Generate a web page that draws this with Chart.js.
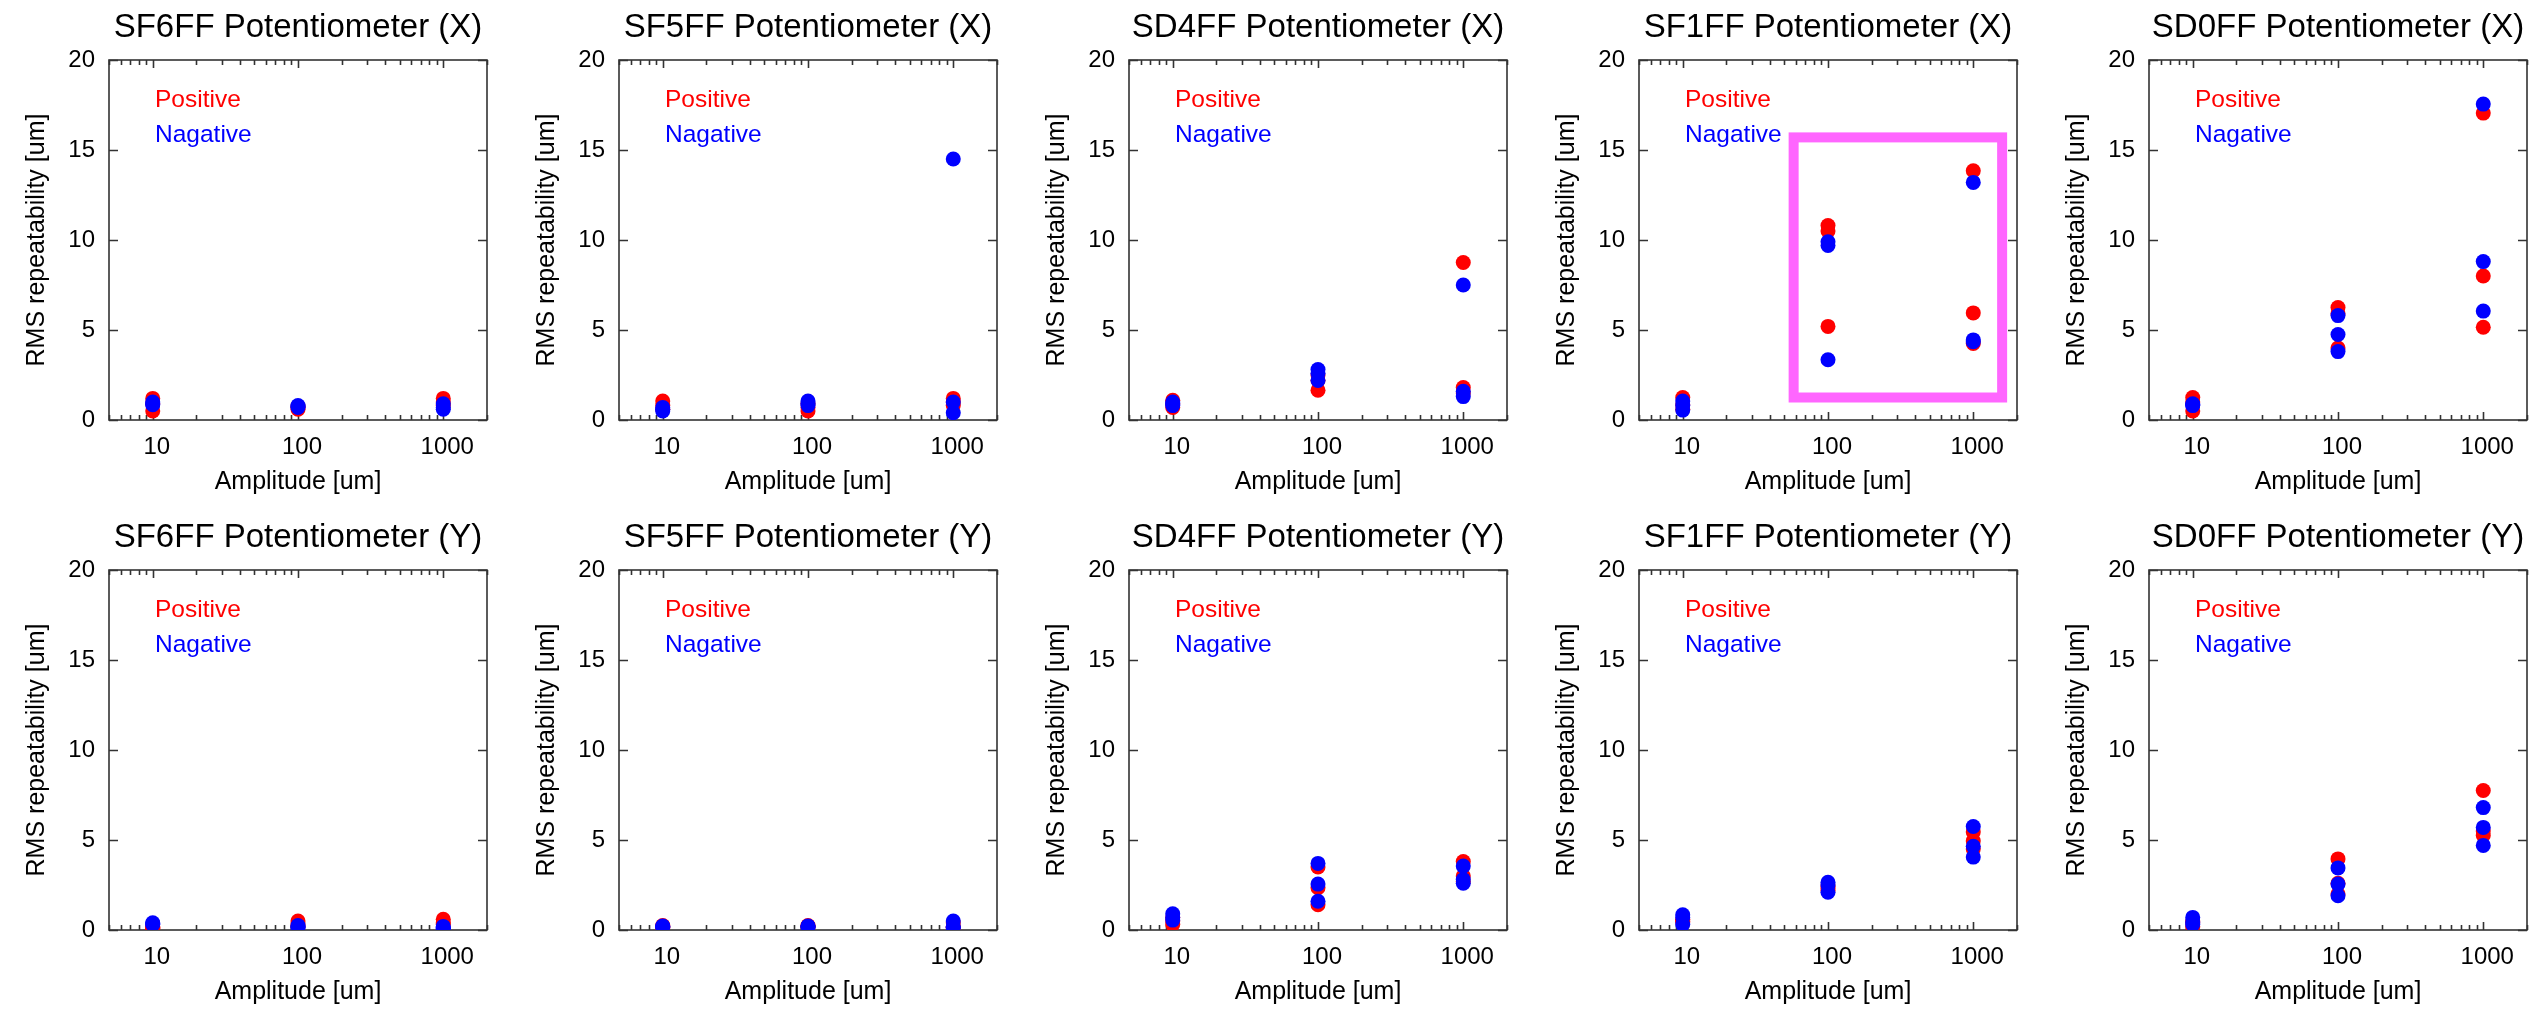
<!DOCTYPE html>
<html>
<head>
<meta charset="utf-8">
<script src="https://cdn.jsdelivr.net/npm/chart.js@4.4.1/dist/chart.umd.min.js"></script>
<style>
html, body { margin: 0; padding: 0; background: #ffffff; }
.cell { position: absolute; width: 510px; height: 499px; }
</style>
</head>
<body>
<script>
// ---------------- data ----------------
const amplitude = [10, 100, 1000];          // um
const xTickLabels = [10, 100, 1000];
const yTickValues = [0, 5, 10, 15, 20];
const seriesNames = ['Positive', 'Nagative'];

// three repeated measurements at each amplitude (10, 100, 1000 um), RMS repeatability [um]
const SF6FF_X_pos = [[1.2, 0.5, 0.9], [0.6, 0.7, 0.75], [1.2, 1.0, 0.8]];
const SF6FF_X_neg = [[1.0, 0.85, 0.9], [0.8, 0.75, 0.7], [0.9, 0.7, 0.6]];
const SF5FF_X_pos = [[1.05, 0.8, 0.6], [0.5, 0.7, 0.9], [1.2, 1.0, 0.8]];
const SF5FF_X_neg = [[0.7, 0.5, 0.6], [1.05, 0.8, 0.9], [14.5, 1.0, 0.4]];
const SD4FF_X_pos = [[1.1, 0.7, 0.9], [2.5, 1.65, 2.2], [8.75, 1.8, 1.5]];
const SD4FF_X_neg = [[0.9, 0.8, 1.0], [2.8, 2.2, 2.6], [7.5, 1.6, 1.3]];
const SF1FF_X_pos = [[1.25, 0.85, 0.6], [10.8, 10.5, 5.2], [13.85, 5.95, 4.25]];
const SF1FF_X_neg = [[1.05, 0.55, 0.8], [9.9, 9.7, 3.35], [13.2, 4.45, 4.35]];
const SD0FF_X_pos = [[1.25, 0.5, 1.0], [6.25, 4.0, 5.9], [17.05, 8.0, 5.15]];
const SD0FF_X_neg = [[0.8, 0.85, 0.9], [5.8, 4.75, 3.8], [17.55, 8.8, 6.05]];

const SF6FF_Y_pos = [[0.15, 0.2, 0.1], [0.5, 0.3, 0.2], [0.6, 0.4, 0.3]];
const SF6FF_Y_neg = [[0.4, 0.35, 0.3], [0.2, 0.25, 0.15], [0.15, 0.1, 0.2]];
const SF5FF_Y_pos = [[0.2, 0.25, 0.15], [0.2, 0.2, 0.25], [0.4, 0.2, 0.15]];
const SF5FF_Y_neg = [[0.2, 0.22, 0.18], [0.22, 0.2, 0.18], [0.5, 0.15, 0.2]];
const SD4FF_Y_pos = [[0.3, 0.5, 0.7], [3.5, 2.35, 1.4], [3.8, 3.0, 2.7]];
const SD4FF_Y_neg = [[0.9, 0.55, 0.7], [3.7, 2.55, 1.6], [3.55, 2.6, 2.8]];
const SF1FF_Y_pos = [[0.5, 0.45, 0.6], [2.45, 2.3, 2.2], [5.45, 4.95, 4.5]];
const SF1FF_Y_neg = [[0.85, 0.3, 0.7], [2.65, 2.1, 2.5], [5.75, 4.65, 4.05]];
const SD0FF_Y_pos = [[0.4, 0.5, 0.2], [3.95, 2.6, 2.0], [7.75, 5.25, 5.5]];
const SD0FF_Y_neg = [[0.7, 0.3, 0.45], [3.45, 1.9, 2.55], [6.8, 5.7, 4.7]];

const panelTitles = [
  'SF6FF Potentiometer (X)', 'SF5FF Potentiometer (X)', 'SD4FF Potentiometer (X)', 'SF1FF Potentiometer (X)', 'SD0FF Potentiometer (X)',
  'SF6FF Potentiometer (Y)', 'SF5FF Potentiometer (Y)', 'SD4FF Potentiometer (Y)', 'SF1FF Potentiometer (Y)', 'SD0FF Potentiometer (Y)'
];
const panelPos = [SF6FF_X_pos, SF5FF_X_pos, SD4FF_X_pos, SF1FF_X_pos, SD0FF_X_pos,
                  SF6FF_Y_pos, SF5FF_Y_pos, SD4FF_Y_pos, SF1FF_Y_pos, SD0FF_Y_pos];
const panelNeg = [SF6FF_X_neg, SF5FF_X_neg, SD4FF_X_neg, SF1FF_X_neg, SD0FF_X_neg,
                  SF6FF_Y_neg, SF5FF_Y_neg, SD4FF_Y_neg, SF1FF_Y_neg, SD0FF_Y_neg];

// highlight box (data coordinates) on the SF1FF (X) panel
const highlightPanel = 3;
const highlightBox = { xMin: 58, xMax: 1580, yMin: 1.25, yMax: 15.7 };

// ---------------- style ----------------
const FONT = "'Liberation Sans', Arial, Helvetica, sans-serif";
const RED = '#ff0000';
const BLUE = '#0000ff';
const FRAME = '#333333';

function toPoints(groups) {
  const pts = [];
  amplitude.forEach((a, i) => groups[i].forEach(v => pts.push({ x: a, y: v })));
  return pts;
}

// minor log tick values between 5 and 2000
const xMinorTicks = [];
for (let k = 0; k <= 3; k++) for (let m = 1; m <= 9; m++) {
  const v = m * Math.pow(10, k);
  if (v >= 5 && v <= 2000) xMinorTicks.push(v);
}

const framePlugin = {
  id: 'frame',
  beforeDatasetsDraw(chart) {
    const { ctx, chartArea: a, scales: { x, y } } = chart;
    ctx.save();
    ctx.strokeStyle = FRAME;
    ctx.lineWidth = 1.6;
    ctx.strokeRect(a.left, a.top, a.right - a.left, a.bottom - a.top);
    ctx.beginPath();
    xMinorTicks.forEach(v => {
      const px = Math.round(x.getPixelForValue(v)) + 0.5;
      const len = xTickLabels.includes(v) ? 8 : 5;
      ctx.moveTo(px, a.bottom); ctx.lineTo(px, a.bottom - len);
      ctx.moveTo(px, a.top); ctx.lineTo(px, a.top + len);
    });
    yTickValues.forEach(v => {
      const py = Math.round(y.getPixelForValue(v)) + 0.5;
      ctx.moveTo(a.left, py); ctx.lineTo(a.left + 9, py);
      ctx.moveTo(a.right, py); ctx.lineTo(a.right - 9, py);
    });
    ctx.stroke();
    ctx.restore();
  },
  afterDatasetsDraw(chart, args, opts) {
    const { ctx, chartArea: a, scales: { x, y } } = chart;
    ctx.save();
    // title
    ctx.fillStyle = '#000';
    ctx.font = '33px ' + FONT;
    ctx.textAlign = 'center';
    ctx.textBaseline = 'alphabetic';
    ctx.fillText(opts.title, (a.left + a.right) / 2, 37);
    // in-plot legend text
    ctx.font = '24.5px ' + FONT;
    ctx.textAlign = 'left';
    ctx.fillStyle = RED;
    ctx.fillText(seriesNames[0], a.left + 46, a.top + 47);
    ctx.fillStyle = BLUE;
    ctx.fillText(seriesNames[1], a.left + 46, a.top + 82);
    // highlight box
    if (opts.box) {
      const b = opts.box;
      const l = x.getPixelForValue(b.xMin), r = x.getPixelForValue(b.xMax);
      const t = y.getPixelForValue(b.yMax), bt = y.getPixelForValue(b.yMin);
      ctx.strokeStyle = '#ff66ff';
      ctx.lineWidth = 10;
      ctx.strokeRect(l, t, r - l, bt - t);
    }
    ctx.restore();
  }
};

panelTitles.forEach((title, i) => {
  const row = Math.floor(i / 5), col = i % 5;
  const div = document.createElement('div');
  div.className = 'cell';
  div.style.left = (col * 510) + 'px';
  div.style.top = (row * 510) + 'px';
  const cv = document.createElement('canvas');
  cv.width = 510; cv.height = 499;
  cv.style.width = '510px'; cv.style.height = '499px';
  div.appendChild(cv);
  document.body.appendChild(div);

  new Chart(cv.getContext('2d'), {
    type: 'scatter',
    data: {
      datasets: [
        { label: seriesNames[0], data: toPoints(panelPos[i]), backgroundColor: RED, borderWidth: 0, pointRadius: 7.5, order: 1 },
        { label: seriesNames[1], data: toPoints(panelNeg[i]), backgroundColor: BLUE, borderWidth: 0, pointRadius: 7.5, order: 0 }
      ]
    },
    options: {
      responsive: false,
      animation: false,
      devicePixelRatio: 1,
      layout: { padding: { top: 60, left: 0, right: 23, bottom: 0 } },
      plugins: {
        legend: { display: false },
        tooltip: { enabled: false },
        title: { display: false },
        frame: { title: title, box: i === highlightPanel ? highlightBox : null }
      },
      scales: {
        x: {
          type: 'logarithmic', min: 5, max: 2000,
          afterBuildTicks: s => { s.ticks = xTickLabels.map(v => ({ value: v })); },
          afterFit: s => { s.height = 79; },
          ticks: { callback: v => String(v), font: { family: FONT, size: 24 }, color: '#000', padding: 13, labelOffset: 4, maxRotation: 0, autoSkip: false },
          grid: { display: false, drawTicks: false },
          border: { display: false },
          title: { display: true, text: 'Amplitude [um]', color: '#000', font: { family: FONT, size: 25 }, padding: { top: 0, bottom: 2 } }
        },
        y: {
          min: 0, max: 20,
          afterBuildTicks: s => { s.ticks = yTickValues.map(v => ({ value: v })); },
          afterFit: s => { s.width = 109; },
          ticks: { font: { family: FONT, size: 24 }, color: '#000', padding: 14 },
          grid: { display: false, drawTicks: false },
          border: { display: false },
          title: { display: true, text: 'RMS repeatability [um]', color: '#000', font: { family: FONT, size: 25 }, padding: { top: 22, bottom: 0 } }
        }
      }
    },
    plugins: [framePlugin]
  });
});
</script>
</body>
</html>
